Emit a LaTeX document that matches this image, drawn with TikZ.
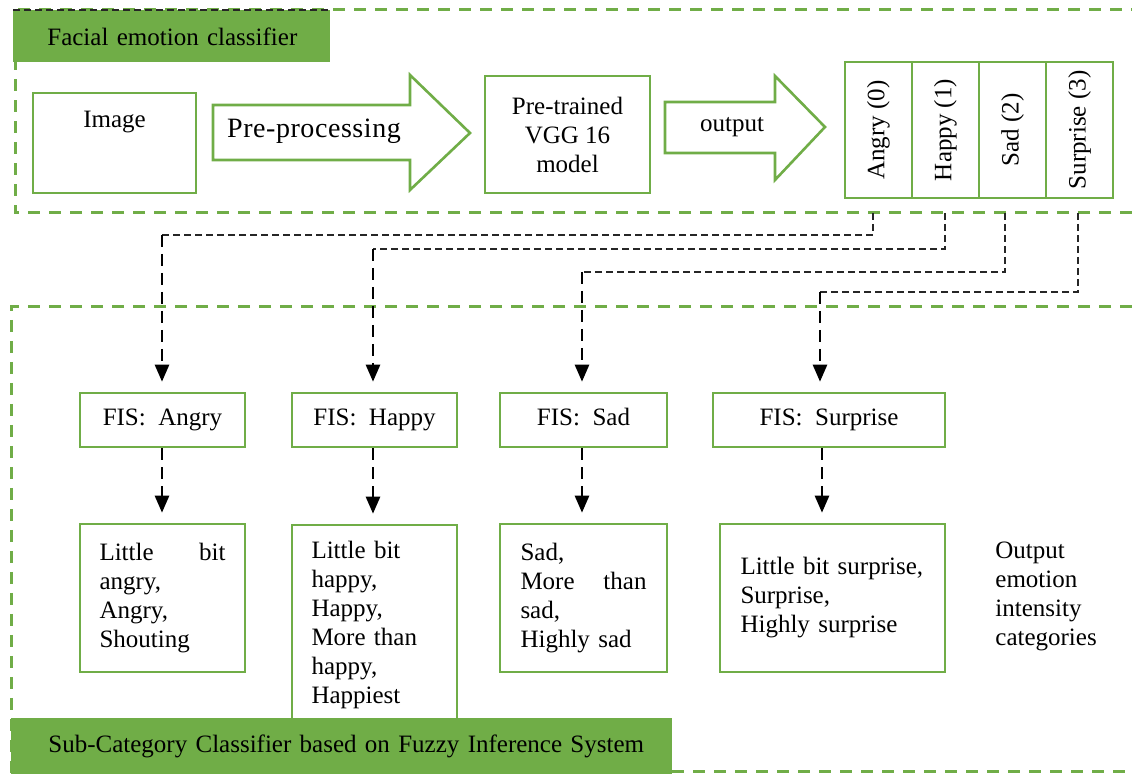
\documentclass[tikz,border=0pt]{standalone}
\usepackage{fontspec}
\setmainfont{Liberation Serif}
\usetikzlibrary{arrows.meta}
\definecolor{fgreen}{HTML}{70AD47}
\begin{document}
\begin{tikzpicture}[x=0.5pt,y=-0.5pt,
  every node/.style={font=\fontsize{12.5}{14.5}\selectfont, inner sep=0pt},
  gbox/.style={draw=fgreen, line width=1.3pt, fill=white},
  fisbox/.style={gbox, minimum height=27pt, text height=9pt, text depth=3pt},
  region/.style={draw=fgreen, line width=1.5pt, dash pattern=on 6pt off 4.5pt},
  tagbox/.style={fill=fgreen, text width=#1, align=left},
  thinlink/.style={draw=black!85, line width=0.6pt, dash pattern=on 3.5pt off 2pt},
  thicklink/.style={draw=black, line width=1.3pt, dash pattern=on 6pt off 3.5pt,
    -{Triangle[length=8.5pt,width=7pt]}, shorten >=5pt},
  txt/.style={align=left, text width=#1}
]
\useasboundingbox (0,0) rectangle (1132,774);

% ---------- regions ----------
\draw[region] (1132,213) -- (15,213) -- (15,10) -- (1132,10);
\draw[region] (1132,307) -- (11,307) -- (11,772) -- (1132,772);

\node[tagbox=158.5pt, minimum height=26pt, anchor=north west] (tagA) at (13,10)
  {\hspace*{17pt}Facial emotion classifier};
\draw[thinlink, line width=0.9pt] (tagA.north west) -- (tagA.north east);

% ---------- top row ----------
\node[gbox, minimum width=81.5pt, minimum height=50pt, text depth=24pt] (img) at (114.5,143) {Image};

\draw[gbox] (213,105) -- (410,105) -- (410,75) -- (470,133) -- (410,190) -- (410,160) -- (213,160) -- cycle;
\node[font=\fontsize{14}{16}\selectfont\addfontfeature{LetterSpace=2}] (pre) at (314,131) {Pre-processing};

\node[gbox, minimum width=82.5pt, minimum height=58.5pt, align=center] (vgg) at (567.5,134.5)
  {Pre-trained\\VGG 16\\model};

\draw[gbox] (665,102) -- (775,102) -- (775,76) -- (825,127) -- (775,180) -- (775,153) -- (665,153) -- cycle;
\node (out) at (732,127) {output};

\node[gbox, minimum width=33.5pt, minimum height=68pt] (ang) at (878.5,130) {\rotatebox{90}{Angry (0)}};
\node[gbox, minimum width=33.5pt, minimum height=68pt] (hap) at (945.5,130) {\rotatebox{90}{Happy (1)}};
\node[gbox, minimum width=33.5pt, minimum height=68pt] (sad) at (1012.5,130) {\rotatebox{90}{Sad (2)}};
\node[gbox, minimum width=33.5pt, minimum height=68pt] (sur) at (1079.5,130) {\rotatebox{90}{Surprise (3)}};

% ---------- FIS row ----------
\node[fisbox, minimum width=82.5pt] (fa) at (162.5,420) {FIS:~ Angry};
\node[fisbox, minimum width=82.5pt] (fh) at (374.5,420) {FIS:~ Happy};
\node[fisbox, minimum width=83.5pt] (fs) at (583.5,420) {FIS:~ Sad};
\node[fisbox, minimum width=116pt] (fsu) at (829,420) {FIS:~ Surprise};

% ---------- output row ----------
\node[gbox, minimum width=82.5pt, minimum height=74pt, txt=63pt] (oa) at (162.5,598)
  {Little\hfill bit\\angry,\\Angry,\\Shouting};
\node[gbox, minimum width=82.5pt, minimum height=100pt, txt=63pt] (oh) at (374.5,625)
  {Little bit\\happy,\\Happy,\\More than\\happy,\\Happiest};
\node[gbox, minimum width=83.5pt, minimum height=74pt, txt=63pt] (os) at (583.5,598)
  {Sad,\\More\hfill than\\sad,\\Highly sad};
\node[gbox, minimum width=112.5pt, minimum height=74pt, txt=92pt] (osu) at (832.5,598)
  {Little bit surprise,\\Surprise,\\Highly surprise};

\node[align=left, anchor=west] (cat) at (995,596) {Output\\emotion\\intensity\\categories};

% ---------- bottom tag ----------
\node[tagbox=330.5pt, minimum height=28pt, anchor=north west] (tagB) at (11,718)
  {\hspace*{18.5pt}Sub-Category Classifier based on Fuzzy Inference System};

% ---------- connectors ----------
\coordinate (sA) at (873,213);  \coordinate (cA) at (162,235);
\coordinate (sH) at (945,213);  \coordinate (cH) at (373,249);
\coordinate (sS) at (1005,213); \coordinate (cS) at (582,272);
\coordinate (sU) at (1078,213); \coordinate (cU) at (820,292);

\draw[thinlink] (sA) |- (cA);
\draw[thinlink] (sH) |- (cH);
\draw[thinlink] (sS) |- (cS);
\draw[thinlink] (sU) |- (cU);

\draw[thicklink] (cA) -- (cA |- fa.north);
\draw[thicklink] (cH) -- (cH |- fh.north);
\draw[thicklink] (cS) -- (cS |- fs.north);
\draw[thicklink] (cU) -- (cU |- fsu.north);

\coordinate (dU) at (822,447);
\draw[thicklink] (cA |- fa.south) -- (cA |- oa.north);
\draw[thicklink] (cH |- fh.south) -- (cH |- oh.north);
\draw[thicklink] (cS |- fs.south) -- (cS |- os.north);
\draw[thicklink] (dU |- fsu.south) -- (dU |- osu.north);
\end{tikzpicture}
\end{document}
